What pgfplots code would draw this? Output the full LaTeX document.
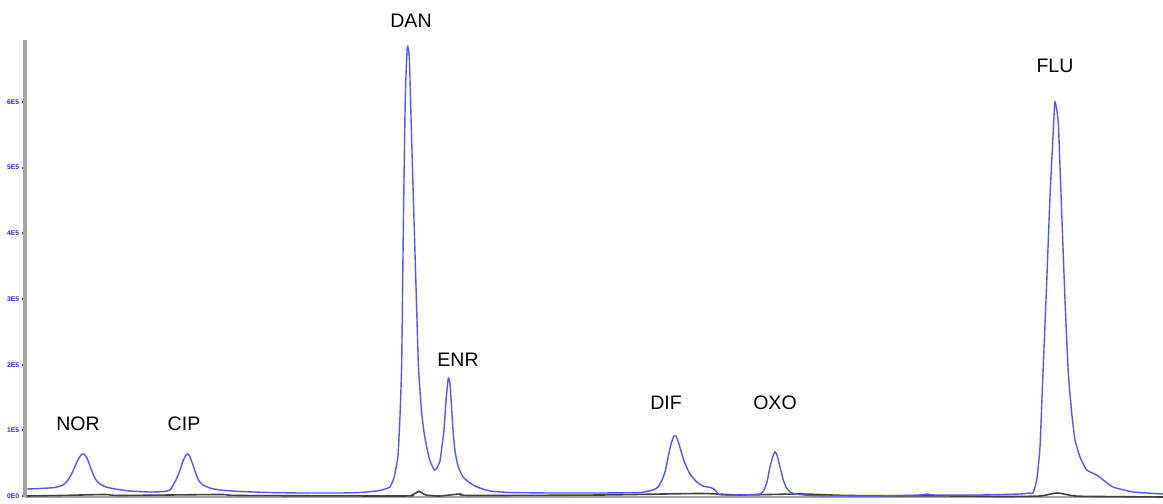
\documentclass[border=0pt]{standalone}
\usepackage{pgfplots}
\pgfplotsset{compat=1.18}
\usepackage{fontspec}
\setmainfont{Liberation Sans}
\definecolor{trace}{RGB}{85,85,255}
\definecolor{ticklab}{RGB}{40,40,255}
\begin{document}
\begin{tikzpicture}
\useasboundingbox (0,0) rectangle (581.5bp,252bp);
\begin{axis}[
  at={(12.5bp,3.5bp)}, anchor=south west,
  scale only axis, width=569bp, height=228.5bp,
  xmin=25, xmax=1163, ymin=-1, ymax=456,
  axis lines=left,
  y axis line style={-, gray!70, line width=1.6bp},
  x axis line style={-, gray!70, line width=1.1bp},
  xtick=\empty,
  ytick={0,65.7,131.3,197,262.7,328.3,394},
  yticklabels={0E0,1E5,2E5,3E5,4E5,5E5,6E5},
  minor y tick num=3,
  tick align=outside,
  major tick length=1.4bp, minor tick length=1.4bp,
  every tick/.style={black!70, line width=0.9bp},
  yticklabel style={font=\fontsize{3.4}{4}\selectfont\bfseries, text=ticklab, inner sep=0pt, xshift=-1.3bp},
  clip=false,
]
% black trace
\addplot[black!75, line width=0.8bp, smooth, tension=0.4] coordinates {
(27,0) (60,0.5) (105,1.5) (120,0.5) (220,1.5) (240,0.5) (400,0) (412,1) (419,4.5) (426,1) (440,0) (460,2) (470,0.5)
(600,1) (700,2.5) (740,1) (800,2) (850,0.5) (960,0) (1000,-0.5) (1040,0) (1057,3) (1075,0) (1100,-0.5) (1163,-1)
};
% blue trace
\addplot[trace, line width=0.7bp, smooth, tension=0.3] coordinates {
(27,7) (40,7.5) (55,8.5) (63,11) (68,16) (72,23) (76,32) (79,38) (82,42) (84,42) (87,38) (90,30) (93,22) (96,16)
(100,12) (106,9) (115,7) (130,5) (150,4) (165,4.5) (170,6)
(172,9) (176,16) (180,26) (183,35) (186,41) (188,42) (190,39) (193,31) (196,22) (199,15) (203,11) (210,8) (220,6)
(240,4.5) (270,3.5) (300,3) (340,3) (360,3.5) (377,5) (385,7) (390,9) (394,18) (396,28) (398,40) (400,80)
(401.7,133) (403.3,266) (405.3,399) (407.3,449) (409.3,439) (411,380) (412.7,320) (414.3,266) (416.3,200)
(418.3,133) (420,105) (421.7,83) (424,64) (426.7,49) (430,35) (434.3,26) (437,28)
(440,35) (442,50) (444,66) (446,95) (448.3,118) (450,112) (451.5,90) (453,66) (455,45) (458,30) (463,19) (470,13)
(477,9) (490,5) (510,3.5) (550,3) (600,3) (640,3.5) (653,6)
(658,9) (662,16) (665,24) (668,38) (671,52) (674,60) (676,60) (678,55) (681,45) (684,35) (687,28) (690,22) (694,17)
(698,13) (703,10) (708,9) (712,8) (715,6) (718,2) (722,1) (740,1) (760,2)
(764,6) (767,14) (770,29) (773,40) (775,44) (777,41) (780,29) (783,17) (786,9) (790,4) (795,2) (810,0.5) (830,0)
(880,0) (920,1) (927,2) (935,1) (980,1) (1020,2) (1030,3)
(1033,3) (1036.7,16) (1040,49) (1042.7,116) (1046,196) (1050,299) (1053.3,366) (1055,394) (1058.3,373)
(1061.7,283) (1065,196) (1068.3,123) (1071.7,83) (1075,56) (1080,39) (1086.7,26) (1096.7,21) (1103.3,16)
(1113,9) (1133,4) (1163,2)
};
\tikzset{pk/.style={anchor=center, inner sep=0pt, font=\fontsize{9.8}{12}\selectfont}}
\node[pk] at (axis cs:78,72) {NOR};
\node[pk] at (axis cs:184,72) {CIP};
\node[pk] at (axis cs:411,475) {DAN};
\node[pk] at (axis cs:458,136) {ENR};
\node[pk] at (axis cs:666,93) {DIF};
\node[pk] at (axis cs:775,93) {OXO};
\node[pk] at (axis cs:1055,430) {FLU};
\end{axis}
\end{tikzpicture}
\end{document}
